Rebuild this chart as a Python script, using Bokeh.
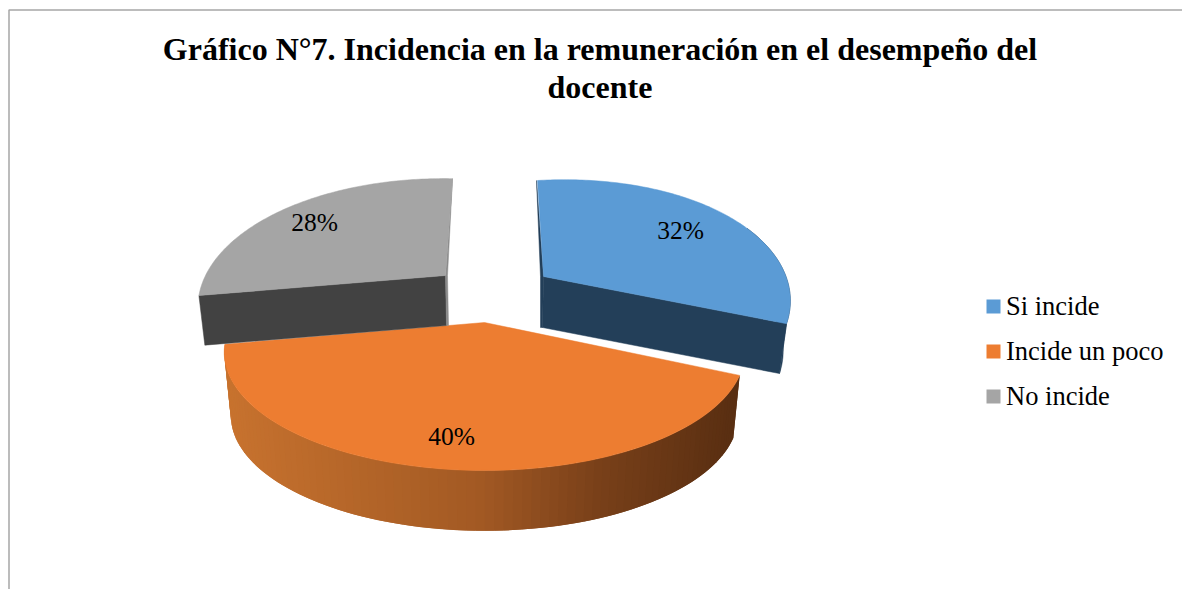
import numpy as np
from bokeh.plotting import figure
from bokeh.models import Range1d
from bokeh.core.properties import value
from bokeh.embed import file_html
from bokeh.resources import INLINE

categories = ["Si incide", "Incide un poco", "No incide"]
percent = [32, 40, 28]
title_lines = ["Gráfico N°7. Incidencia en la remuneración en el desempeño del", "docente"]
top_colors = ["#5b9bd5", "#ed7d31", "#a5a5a5"]
side_colors = ["#233f59", "#a35a24", "#424242"]
sliver_colors = ["#233f59", "#a35a24", "#8b8b8b"]

FONT = value("Liberation Serif")

p = figure(width=1182, height=589, output_backend="svg", toolbar_location=None,
           x_range=Range1d(0, 1182), y_range=Range1d(589, 0), min_border=0,
           background_fill_color="white", border_fill_color="white", outline_line_color=None)
p.axis.visible = False
p.grid.visible = False

# frame
p.line([8.5, 8.5, 1182], [589, 9.5, 9.5], line_color="#a6a6a6", line_width=1.5)

# per-slice projection: tip of top face, tip of bottom face, scale, A, B, k, shear, tilt
proj = [
    dict(tip=(543, 276), low=(542, 327), s=0.975, A=237.5, B=120, k=0.25, sx=6, r=-11),
    dict(tip=(484, 322), low=(484, 386), s=0.975, A=252, B=111, k=0.25, sx=0, r=0),
    dict(tip=(445, 275), low=(446, 325), s=0.98, A=238, B=121, k=0.25, sx=-7, r=3.8),
]

def rim(pr, theta, lower=False):
    X, Y = np.sin(theta), -np.cos(theta)
    den = 1 - pr["k"] * Y
    dx = pr["A"] * X / den + pr["sx"] * Y
    dy = pr["B"] * Y / den + pr["r"] * X
    if lower:
        return pr["low"][0] + pr["s"] * dx, pr["low"][1] + pr["s"] * dy
    return pr["tip"][0] + dx, pr["tip"][1] + dy

def lerp_color(x):
    stops_x = [225, 484, 600, 735]
    stops = np.array([[200, 115, 47], [163, 90, 36], [122, 65, 26], [90, 47, 18]])
    c = [int(np.interp(x, stops_x, stops[:, i])) for i in range(3)]
    return "#%02x%02x%02x" % tuple(c)

cum = np.cumsum([0] + percent) / sum(percent) * 2 * np.pi
starts, ends = cum[:-1], cum[1:]

# ---- orange slice (drawn first, everything else lies behind/over it)
i = 1
pr = proj[i]
ths = np.linspace(starts[i], ends[i], 90)
for j in range(len(ths) - 1, 0, -1):
    a = ths[j]
    b = ths[max(j - 2, 0)]
    x0, y0 = rim(pr, a); x1, y1 = rim(pr, b)
    x2, y2 = rim(pr, b, True); x3, y3 = rim(pr, a, True)
    col = lerp_color(rim(pr, ths[j - 1])[0])
    p.patch([x0, x1, x2, x3], [y0, y1, y2, y3], fill_color=col, line_color=None)

def top_face(i):
    pr = proj[i]
    ths = np.linspace(starts[i], ends[i], 120)
    pts = [rim(pr, t) for t in ths]
    xs = [pr["tip"][0]] + [q[0] for q in pts]
    ys = [pr["tip"][1]] + [q[1] for q in pts]
    p.patch(xs, ys, fill_color=top_colors[i], line_color=top_colors[i], line_width=0.5)

top_face(1)

# ---- blue slice
i = 0
pr = proj[i]
# outer wall
ths = np.linspace(np.radians(70), ends[i], 40)
up = [rim(pr, t) for t in ths]
lo = [rim(pr, t, True) for t in ths]
p.patch([q[0] for q in up] + [q[0] for q in lo[::-1]], [q[1] for q in up] + [q[1] for q in lo[::-1]],
        fill_color=side_colors[i], line_color=side_colors[i], line_width=0.5)
# cut faces
c = rim(pr, ends[i]); cl = rim(pr, ends[i], True)
p.patch([pr["tip"][0], c[0], cl[0], pr["low"][0]], [pr["tip"][1], c[1], cl[1], pr["low"][1]],
        fill_color=side_colors[i], line_color=side_colors[i], line_width=0.5)
t0 = rim(pr, starts[i])
p.patch([t0[0] - 1, pr["tip"][0] - 3, pr["low"][0] - 2, pr["low"][0], pr["tip"][0]],
        [t0[1], pr["tip"][1], pr["low"][1], pr["low"][1], pr["tip"][1]],
        fill_color=sliver_colors[i], line_color=sliver_colors[i], line_width=0.5)
top_face(0)

# ---- grey slice
i = 2
pr = proj[i]
c = rim(pr, starts[i]); cl = rim(pr, starts[i], True)
p.patch([pr["tip"][0], c[0], cl[0], pr["low"][0]], [pr["tip"][1], c[1], cl[1], pr["low"][1]],
        fill_color=side_colors[i], line_color=side_colors[i], line_width=0.5)
t0 = rim(pr, ends[i])
p.patch([t0[0], pr["tip"][0], pr["low"][0], pr["low"][0] + 2, pr["tip"][0] + 2],
        [t0[1], pr["tip"][1], pr["low"][1], pr["low"][1], pr["tip"][1]],
        fill_color=sliver_colors[i], line_color=sliver_colors[i], line_width=0.5)
top_face(2)

# data labels
label_x = [680, 451, 314]
label_y = [230, 436, 222]
p.text(label_x, label_y, text=[f"{v}%" for v in percent], text_font=FONT, text_font_size="25.5px",
       text_align="center", text_baseline="middle", text_color="#000000")

# legend
leg_y = [306, 351, 396]
p.quad(left=[986] * 3, right=[1000] * 3, top=[y - 7 for y in leg_y], bottom=[y + 7 for y in leg_y],
       fill_color=top_colors, line_color=None)
p.text([1005.5] * 3, [y - 1 for y in leg_y], text=categories, text_font=FONT, text_font_size="26.5px",
       text_align="left", text_baseline="middle", text_color="#000000")

# title
p.text([599.5, 599.5], [48, 86], text=title_lines, text_font=FONT, text_font_size="32px",
       text_font_style="bold", text_align="center", text_baseline="middle", text_color="#000000")

open("out.html", "w").write(file_html(p, INLINE))
